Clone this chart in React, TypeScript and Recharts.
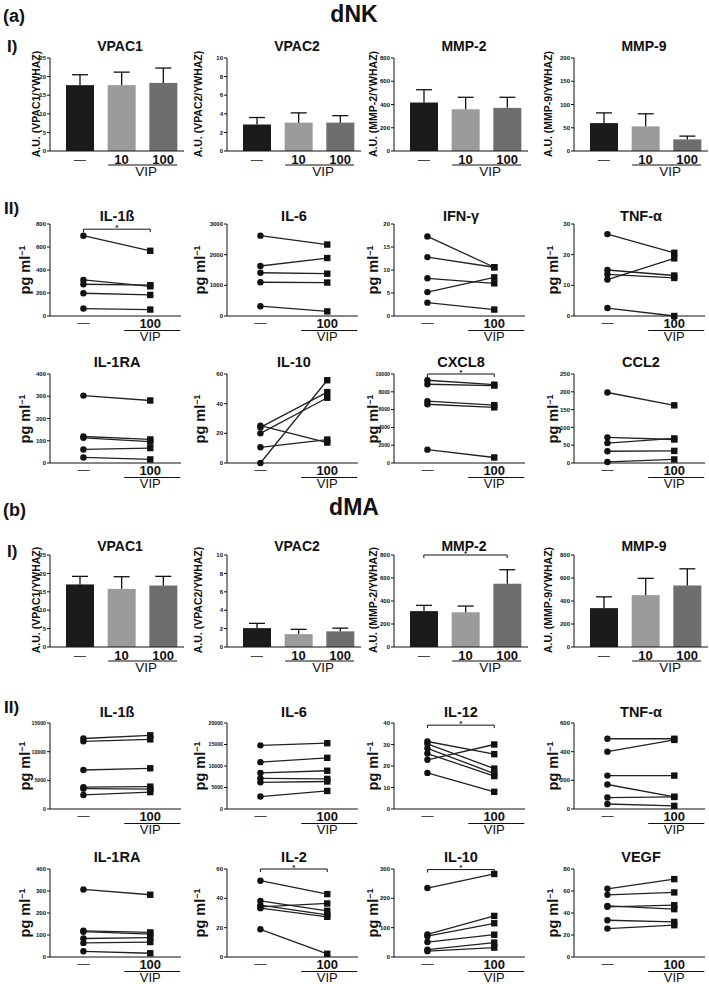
import { Bar, BarChart, Line, LineChart, ReferenceLine, XAxis, YAxis } from "recharts";

const FONT = "'Liberation Sans', Arial, Helvetica, sans-serif";

const barCats = ["—", "10", "100"];
const pairCats = ["—", "100"];
const barColors = ["#1b1b1b", "#9b9b9b", "#6e6e6e"];

// shared y ticks
const ticks25 = [0, 5, 10, 15, 20, 25];
const ticks10 = [0, 2, 4, 6, 8, 10];
const ticks800 = [0, 200, 400, 600, 800];
const ticks200 = [0, 50, 100, 150, 200];
const ticks3000 = [0, 1000, 2000, 3000];
const ticks20 = [0, 5, 10, 15, 20];
const ticks30 = [0, 10, 20, 30];
const ticks400 = [0, 100, 200, 300, 400];
const ticks60 = [0, 20, 40, 60];
const ticks10000 = [0, 2000, 4000, 6000, 8000, 10000];
const ticks250 = [0, 50, 100, 150, 200, 250];
const ticks15000 = [0, 5000, 10000, 15000];
const ticks20000 = [0, 5000, 10000, 15000, 20000];
const ticks40 = [0, 10, 20, 30, 40];
const ticks600 = [0, 200, 400, 600];
const ticks300 = [0, 100, 200, 300];
const ticks80 = [0, 20, 40, 60, 80];

// (a) dNK  I) mean + SEM
const nkVpac1 = [17.7, 17.7, 18.3];
const nkVpac1Err = [2.8, 3.5, 4.0];
const nkVpac2 = [2.85, 3.05, 3.05];
const nkVpac2Err = [0.75, 1.05, 0.75];
const nkMmp2 = [417, 359, 371];
const nkMmp2Err = [110, 103, 91];
const nkMmp9 = [60, 53, 25];
const nkMmp9Err = [22, 27, 7];

// (a) dNK  II) paired donors, control vs VIP 100
const nkIl1bCtrl = [698, 314, 276, 198, 65];
const nkIl1bVip = [567, 258, 268, 183, 56];
const nkIl6Ctrl = [2620, 1630, 1410, 1100, 320];
const nkIl6Vip = [2330, 1890, 1380, 1090, 150];
const nkIfngCtrl = [17.3, 12.8, 8.2, 5.2, 2.9];
const nkIfngVip = [10.6, 10.6, 7.1, 8.4, 1.4];
const nkTnfCtrl = [26.7, 11.9, 15, 13.6, 2.6];
const nkTnfVip = [20.6, 18.8, 13.2, 12.4, 0];
const nkIl1raCtrl = [303, 119, 113, 61, 25];
const nkIl1raVip = [281, 106, 96, 67, 16];
const nkIl10Ctrl = [25.2, 24, 20, 10.6, 0];
const nkIl10Vip = [13.8, 47.8, 44, 15.8, 55.8];
const nkCxcl8Ctrl = [9300, 8850, 6950, 6600, 1500];
const nkCxcl8Vip = [8800, 8700, 6500, 6250, 620];
const nkCcl2Ctrl = [198, 72, 56, 33, 3];
const nkCcl2Vip = [162, 66, 69, 34, 10];

// (b) dMA  I)
const maVpac1 = [17, 15.8, 16.7];
const maVpac1Err = [2.2, 3.3, 2.5];
const maVpac2 = [2.05, 1.4, 1.7];
const maVpac2Err = [0.52, 0.52, 0.35];
const maMmp2 = [312, 302, 550];
const maMmp2Err = [50, 54, 122];
const maMmp9 = [338, 451, 535];
const maMmp9Err = [98, 146, 145];

// (b) dMA  II)
const maIl1bCtrl = [12300, 11800, 6800, 3800, 3550, 2450];
const maIl1bVip = [12850, 12150, 7100, 3900, 3450, 2950];
const maIl6Ctrl = [14800, 10900, 8400, 7100, 6200, 2900];
const maIl6Vip = [15300, 11900, 8900, 7000, 6400, 4200];
const maIl12Ctrl = [31.4, 30.3, 28.2, 25.8, 22.9, 16.8];
const maIl12Vip = [25.5, 18.8, 16.5, 15.3, 30, 8];
const maTnfCtrl = [490, 400, 233, 171, 80, 35];
const maTnfVip = [490, 482, 233, 85, 84, 22];
const maIl1raCtrl = [307, 119, 115, 84, 64, 26];
const maIl1raVip = [283, 112, 104, 88, 68, 17];
const maIl2Ctrl = [52, 38.3, 35.4, 34.2, 33.3, 18.9];
const maIl2Vip = [42.9, 31.5, 28.7, 36.5, 27.4, 2.2];
const maIl10Ctrl = [235, 77, 71, 51, 25, 20];
const maIl10Vip = [283, 140, 115, 76, 49, 32];
const maVegfCtrl = [62, 56.5, 46.5, 45.6, 33.4, 25.8];
const maVegfVip = [70.8, 58.7, 43.5, 47.1, 31.9, 28.9];

const COLS = [50, 227, 394, 574];
const AU_OFF = [14, 29, 21, 26];
const PG_OFF = [25, 27, 21, 21];
const MT = 14;

const ROW_A = { top: 58, h: 93, titleY: 46 };
const ROW_B = { top: 224, h: 92, titleY: 216 };
const ROW_C = { top: 374, h: 89, titleY: 362 };
const ROW_D = { top: 555, h: 92, titleY: 546 };
const ROW_E = { top: 723, h: 86, titleY: 712 };
const ROW_F = { top: 869, h: 88, titleY: 857 };

function Txt({ x, y, size, weight = 700, left = false, children }: any) {
  return (
    <div
      style={{
        position: "absolute",
        left: x,
        top: y,
        transform: left ? "translate(0,-50%)" : "translate(-50%,-50%)",
        fontFamily: FONT,
        fontWeight: weight,
        fontSize: size,
        lineHeight: 1,
        whiteSpace: "nowrap",
        color: "#111",
      }}
    >
      {children}
    </div>
  );
}

function YLabel({ x, y, size, children }: any) {
  return (
    <div
      style={{
        position: "absolute",
        left: x,
        top: y,
        transform: "translate(-50%,-50%) rotate(-90deg)",
        fontFamily: FONT,
        fontWeight: 700,
        fontSize: size,
        lineHeight: 1,
        whiteSpace: "nowrap",
        color: "#111",
      }}
    >
      {children}
    </div>
  );
}

function yTickFor(ticks: number[]) {
  const top = ticks[ticks.length - 1];
  return { fontSize: top >= 10000 ? 5.2 : 6, fontWeight: 700, fill: "#111", fontFamily: FONT };
}

function Bracket(p: any) {
  const { x1, y1, x2, y2 } = p;
  return (
    <g>
      <path d={`M${x1},${y1 + 3}V${y1}H${x2}V${y2 + 3}`} stroke="#111" strokeWidth={1} fill="none" />
      <text x={(x1 + x2) / 2} y={y1 + 0.5} textAnchor="middle" fontFamily={FONT} fontWeight={700} fontSize={8} fill="#111">
        *
      </text>
    </g>
  );
}

function BarWithError(p: any) {
  const { x, y, width, height, payload, index } = p;
  const errPx = (payload.e / payload.v) * height;
  const cx = x + width / 2;
  return (
    <g>
      <rect x={x} y={y} width={width} height={height} fill={barColors[index]} />
      <line x1={cx} x2={cx} y1={y} y2={y - errPx} stroke="#111" strokeWidth={1.3} />
      <line x1={cx - 8} x2={cx + 8} y1={y - errPx} y2={y - errPx} stroke="#111" strokeWidth={1.3} />
    </g>
  );
}

function BarTick(props: any) {
  const { x, y, payload } = props;
  const v = payload.value;
  if (v === "—") {
    return (
      <text x={x} y={y + 9} textAnchor="middle" dominantBaseline="central" fontFamily={FONT} fontSize={12} fill="#444">
        —
      </text>
    );
  }
  const num = (
    <text x={x} y={y + 8.5} textAnchor="middle" dominantBaseline="central" fontFamily={FONT} fontWeight={700} fontSize={13} fill="#111">
      {v}
    </text>
  );
  if (v !== "100") return num;
  return (
    <g>
      {num}
      <line x1={x - 55} x2={x + 14} y1={y + 14} y2={y + 14} stroke="#111" strokeWidth={1.2} />
      <text x={x - 17} y={y + 20.5} textAnchor="middle" dominantBaseline="central" fontFamily={FONT} fontSize={13.5} fill="#111">
        VIP
      </text>
    </g>
  );
}

function PairTick(props: any) {
  const { x, y, payload } = props;
  const v = pairCats[payload.value];
  if (v === "—") {
    return (
      <text x={x} y={y + 7} textAnchor="middle" dominantBaseline="central" fontFamily={FONT} fontSize={12} fill="#444">
        —
      </text>
    );
  }
  return (
    <g>
      <text x={x} y={y + 7} textAnchor="middle" dominantBaseline="central" fontFamily={FONT} fontWeight={700} fontSize={13} fill="#111">
        {v}
      </text>
      <line x1={x - 26} x2={x + 30} y1={y + 14.5} y2={y + 14.5} stroke="#111" strokeWidth={1.2} />
      <text x={x} y={y + 20.5} textAnchor="middle" dominantBaseline="central" fontFamily={FONT} fontSize={13} fill="#111">
        VIP
      </text>
    </g>
  );
}

function pairDot(p: any) {
  const { cx, cy, index } = p;
  if (index === 0) return <circle key={`c${index}`} cx={cx} cy={cy} r={3.2} fill="#111" />;
  return <rect key={`r${index}`} x={cx - 3.2} y={cy - 3.2} width={6.4} height={6.4} fill="#111" />;
}

function BarPanel({ c, row, title, label, ticks, values, errors, sig }: any) {
  const x0 = COLS[c];
  const data = barCats.map((cat, i) => ({ cat, v: values[i], e: errors[i] }));
  const plotW = 134;
  return (
    <>
      <Txt x={x0 + 70} y={row.titleY} size={14}>
        {title}
      </Txt>
      <YLabel x={x0 - AU_OFF[c]} y={row.top + row.h / 2 - 1} size={10.5}>
        {label}
      </YLabel>
      <div style={{ position: "absolute", left: x0 - 45, top: row.top - MT }}>
        <BarChart
          width={45 + plotW + 6}
          height={MT + row.h + 34}
          data={data}
          margin={{ top: MT, right: 6, left: 0, bottom: 0 }}
          barSize={28}
        >
          <XAxis
            dataKey="cat"
            padding={{ left: 9, right: 0 }}
            height={34}
            tickSize={0}
            tickMargin={0}
            interval={0}
            stroke="#111"
            tick={BarTick}
          />
          <YAxis
            width={45}
            domain={[0, ticks[ticks.length - 1]]}
            ticks={ticks}
            interval={0}
            tickSize={3}
            tickMargin={1}
            stroke="#111"
            tick={yTickFor(ticks)}
          />
          <Bar dataKey="v" shape={BarWithError} isAnimationActive={false} />
          {sig !== undefined && (
            <ReferenceLine
              segment={[
                { x: "—", y: sig },
                { x: "100", y: sig },
              ]}
              shape={Bracket}
              ifOverflow="visible"
            />
          )}
        </BarChart>
      </div>
    </>
  );
}

function PairPanel({ c, row, title, ticks, ctrl, vip, sig }: any) {
  const x0 = COLS[c];
  const first: any = { x: 0 };
  const second: any = { x: 1 };
  ctrl.forEach((v: number, i: number) => {
    first[`s${i}`] = v;
    second[`s${i}`] = vip[i];
  });
  const data = [first, second];
  const plotW = 131;
  return (
    <>
      <Txt x={x0 + 67} y={row.titleY} size={14.5}>
        {title}
      </Txt>
      <YLabel x={x0 - PG_OFF[c]} y={row.top + row.h / 2} size={14.5}>
        pg ml<sup style={{ fontSize: "0.62em", verticalAlign: "0.55em" }}>−1</sup>
      </YLabel>
      <div style={{ position: "absolute", left: x0 - 45, top: row.top - MT }}>
        <LineChart
          width={45 + plotW + 6}
          height={MT + row.h + 28}
          data={data}
          margin={{ top: MT, right: 6, left: 0, bottom: 0 }}
        >
          <XAxis
            type="number"
            dataKey="x"
            domain={[-0.5, 1.46]}
            ticks={[0, 1]}
            allowDataOverflow
            height={28}
            tickSize={0}
            tickMargin={0}
            interval={0}
            stroke="#111"
            tick={PairTick}
          />
          <YAxis
            width={45}
            domain={[0, ticks[ticks.length - 1]]}
            ticks={ticks}
            interval={0}
            tickSize={3}
            tickMargin={1}
            stroke="#111"
            tick={yTickFor(ticks)}
          />
          {sig !== undefined && (
            <ReferenceLine
              segment={[
                { x: 0, y: sig },
                { x: 1, y: sig },
              ]}
              shape={Bracket}
              ifOverflow="visible"
            />
          )}
          {ctrl.map((_: number, i: number) => (
            <Line
              key={i}
              dataKey={`s${i}`}
              stroke="#222"
              strokeWidth={1.3}
              dot={pairDot}
              isAnimationActive={false}
            />
          ))}
        </LineChart>
      </div>
    </>
  );
}

export default function App() {
  return (
    <div
      style={{
        position: "absolute",
        left: 0,
        top: 0,
        width: 709,
        height: 984,
        background: "#fff",
        overflow: "hidden",
      }}
    >
      <Txt x={3} y={16} size={18} left>
        (a)
      </Txt>
      <Txt x={354} y={14} size={23}>
        dNK
      </Txt>
      <Txt x={7} y={46} size={17} left>
        I)
      </Txt>
      <Txt x={4} y={208} size={17} left>
        II)
      </Txt>

      <BarPanel c={0} row={ROW_A} title="VPAC1" label="A.U. (VPAC1/YWHAZ)" ticks={ticks25} values={nkVpac1} errors={nkVpac1Err} />
      <BarPanel c={1} row={ROW_A} title="VPAC2" label="A.U. (VPAC2/YWHAZ)" ticks={ticks10} values={nkVpac2} errors={nkVpac2Err} />
      <BarPanel c={2} row={ROW_A} title="MMP-2" label="A.U. (MMP-2/YWHAZ)" ticks={ticks800} values={nkMmp2} errors={nkMmp2Err} />
      <BarPanel c={3} row={ROW_A} title="MMP-9" label="A.U. (MMP-9/YWHAZ)" ticks={ticks200} values={nkMmp9} errors={nkMmp9Err} />

      <PairPanel c={0} row={ROW_B} title="IL-1ß" ticks={ticks800} ctrl={nkIl1bCtrl} vip={nkIl1bVip} sig={755} />
      <PairPanel c={1} row={ROW_B} title="IL-6" ticks={ticks3000} ctrl={nkIl6Ctrl} vip={nkIl6Vip} />
      <PairPanel c={2} row={ROW_B} title="IFN-γ" ticks={ticks20} ctrl={nkIfngCtrl} vip={nkIfngVip} />
      <PairPanel c={3} row={ROW_B} title="TNF-α" ticks={ticks30} ctrl={nkTnfCtrl} vip={nkTnfVip} />

      <PairPanel c={0} row={ROW_C} title="IL-1RA" ticks={ticks400} ctrl={nkIl1raCtrl} vip={nkIl1raVip} />
      <PairPanel c={1} row={ROW_C} title="IL-10" ticks={ticks60} ctrl={nkIl10Ctrl} vip={nkIl10Vip} />
      <PairPanel c={2} row={ROW_C} title="CXCL8" ticks={ticks10000} ctrl={nkCxcl8Ctrl} vip={nkCxcl8Vip} sig={10000} />
      <PairPanel c={3} row={ROW_C} title="CCL2" ticks={ticks250} ctrl={nkCcl2Ctrl} vip={nkCcl2Vip} />

      <Txt x={3} y={510} size={18} left>
        (b)
      </Txt>
      <Txt x={354} y={507} size={23}>
        dMA
      </Txt>
      <Txt x={7} y={551} size={17} left>
        I)
      </Txt>
      <Txt x={4} y={707} size={17} left>
        II)
      </Txt>

      <BarPanel c={0} row={ROW_D} title="VPAC1" label="A.U. (VPAC1/YWHAZ)" ticks={ticks25} values={maVpac1} errors={maVpac1Err} />
      <BarPanel c={1} row={ROW_D} title="VPAC2" label="A.U. (VPAC2/YWHAZ)" ticks={ticks10} values={maVpac2} errors={maVpac2Err} />
      <BarPanel c={2} row={ROW_D} title="MMP-2" label="A.U. (MMP-2/YWHAZ)" ticks={ticks800} values={maMmp2} errors={maMmp2Err} sig={800} />
      <BarPanel c={3} row={ROW_D} title="MMP-9" label="A.U. (MMP-9/YWHAZ)" ticks={ticks800} values={maMmp9} errors={maMmp9Err} />

      <PairPanel c={0} row={ROW_E} title="IL-1ß" ticks={ticks15000} ctrl={maIl1bCtrl} vip={maIl1bVip} />
      <PairPanel c={1} row={ROW_E} title="IL-6" ticks={ticks20000} ctrl={maIl6Ctrl} vip={maIl6Vip} />
      <PairPanel c={2} row={ROW_E} title="IL-12" ticks={ticks40} ctrl={maIl12Ctrl} vip={maIl12Vip} sig={39} />
      <PairPanel c={3} row={ROW_E} title="TNF-α" ticks={ticks600} ctrl={maTnfCtrl} vip={maTnfVip} />

      <PairPanel c={0} row={ROW_F} title="IL-1RA" ticks={ticks400} ctrl={maIl1raCtrl} vip={maIl1raVip} />
      <PairPanel c={1} row={ROW_F} title="IL-2" ticks={ticks60} ctrl={maIl2Ctrl} vip={maIl2Vip} sig={60} />
      <PairPanel c={2} row={ROW_F} title="IL-10" ticks={ticks300} ctrl={maIl10Ctrl} vip={maIl10Vip} sig={298} />
      <PairPanel c={3} row={ROW_F} title="VEGF" ticks={ticks80} ctrl={maVegfCtrl} vip={maVegfVip} />
    </div>
  );
}
